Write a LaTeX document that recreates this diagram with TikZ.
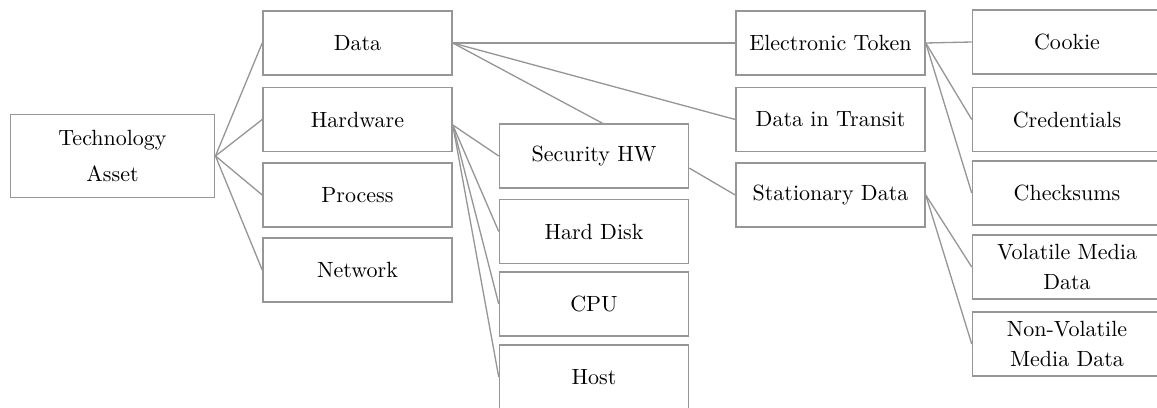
\documentclass[tikz,border=0pt]{standalone}
\definecolor{edgegray}{RGB}{150,150,150}
\definecolor{boxgray}{RGB}{150,150,150}
\begin{document}
\begin{tikzpicture}[x=0.4545pt,y=-0.4545pt,
  box/.style={draw=boxgray, line width=0.6pt, minimum width=86pt, minimum height=29pt,
    inner sep=0pt, align=center, font=\fontsize{10}{13.2}\selectfont},
  link/.style={draw=edgegray, line width=0.6pt}]
\useasboundingbox (0,0) rectangle (1157,407);
\clip (0,0) rectangle (1157,407);
\node[box, minimum width=93pt, minimum height=38pt, font=\fontsize{10}{16.8}\selectfont] (ta) at (112.5,156) {Technology\\Asset};
\node[box] (data) at (357.5,43) {Data};
\node[box] (hw) at (357.5,119.5) {Hardware};
\node[box] (proc) at (357.5,195) {Process};
\node[box] (net) at (357.5,270) {Network};
\node[box] (sechw) at (594,156) {Security HW};
\node[box] (hd) at (594,231.5) {Hard Disk};
\node[box] (cpu) at (594,304) {CPU};
\node[box] (host) at (594,377) {Host};
\node[box] (et) at (830.5,43) {Electronic Token};
\node[box] (dit) at (830.5,119.5) {Data in Transit};
\node[box] (sd) at (830.5,195) {Stationary Data};
\node[box] (cookie) at (1067,42) {Cookie};
\node[box] (cred) at (1067,119.5) {Credentials};
\node[box] (chk) at (1067,193) {Checksums};
\node[box] (vol) at (1067,267) {Volatile Media\\Data};
\node[box] (nonvol) at (1067,344) {Non-Volatile\\Media Data};
% level 1
\draw[link] (ta.east) -- (data.west);
\draw[link] (ta.east) -- (hw.west);
\draw[link] (ta.east) -- (proc.west);
\draw[link] (ta.east) -- (net.west);
% data
\draw[link] (data.east) -- (et.west);
\draw[link] (data.east) -- (dit.west);
\draw[link] (data.east) -- ([xshift=4pt]sechw.north);
% hardware
\draw[link] ([yshift=-2.5pt]hw.east) -- (sechw.west);
\draw[link] ([yshift=-2.5pt]hw.east) -- (hd.west);
\draw[link] ([yshift=-2.5pt]hw.east) -- (cpu.west);
\draw[link] ([yshift=-2.5pt]hw.east) -- (host.west);
% security hw
\draw[link] ([yshift=-5.5pt]sechw.east) -- (sd.west);
% electronic token
\draw[link] (et.east) -- (cookie.west);
\draw[link] (et.east) -- (cred.west);
\draw[link] (et.east) -- (chk.west);
% stationary data
\draw[link] (sd.east) -- (vol.west);
\draw[link] (sd.east) -- (nonvol.west);
\end{tikzpicture}
\end{document}
